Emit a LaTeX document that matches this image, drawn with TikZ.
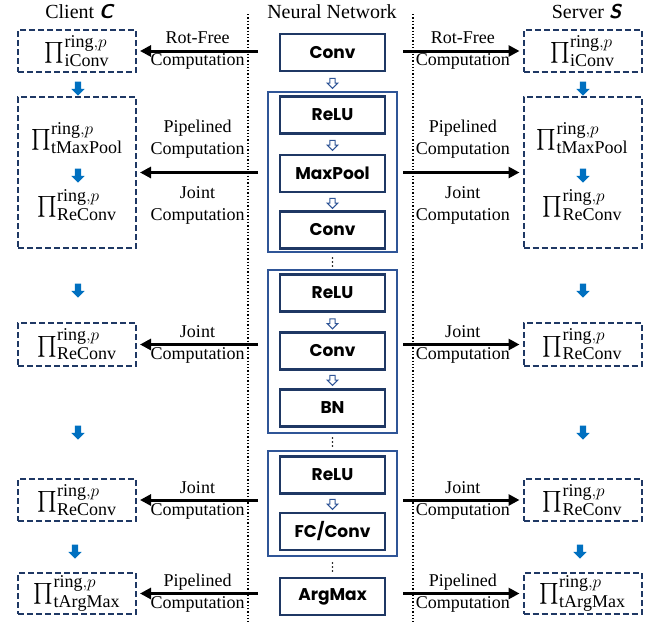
\documentclass[tikz,border=0pt]{standalone}
\usepackage{amsmath}
\usepackage{fontspec}
\setmainfont{Liberation Serif}
\newfontfamily\layerfont{Poppins}
\usetikzlibrary{positioning,shapes.arrows,arrows.meta}
\DeclareMathSizes{20}{20}{18}{14}

\definecolor{navy}{HTML}{1F3864}
\definecolor{grpblue}{HTML}{2F5597}
\definecolor{flowblue}{HTML}{0070C0}

\newcommand{\piop}[1]{$\prod\nolimits^{\mathrm{ring},p}_{\mathrm{#1}}$}

\tikzset{
  title/.style={font=\fontsize{20}{24}\selectfont, inner sep=0pt},
  layer/.style={draw=navy, line width=2.4pt, minimum width=105pt, minimum height=37pt,
    inner sep=0pt, font=\layerfont\bfseries\fontsize{17}{17}\selectfont},
  group/.style={draw=grpblue, line width=1.2pt},
  proto/.style={draw=navy, line width=2pt, dash pattern=on 6pt off 3pt,
    minimum width=118pt, inner sep=0pt, font=\fontsize{20}{24}\selectfont},
  pinode/.style={inner sep=0pt, font=\fontsize{20}{24}\selectfont},
  conn/.style={-{Triangle[length=11pt,width=11pt]}, line width=3pt, shorten >=3pt},
  lab/.style={align=center, inner sep=2pt, font=\fontsize{18}{22}\selectfont},
  flow/.style={single arrow, fill=flowblue, draw=none, shape border rotate=270,
    minimum height=14pt, inner sep=3pt, single arrow head extend=3.5pt},
  hollow/.style={single arrow, fill=white, draw=grpblue, line width=1pt, shape border rotate=270,
    minimum height=10pt, inner sep=2.2pt, single arrow head extend=2.6pt},
  dotsep/.style={line width=1.3pt, dash pattern=on 1.3pt off 2pt},
}

\begin{document}
\begin{tikzpicture}[x=1pt,y=-1pt]
\useasboundingbox (0,0) rectangle (657,622);

% titles
\node[title] (tclient) at (80,12) {Client \textbf{\textit{\sffamily C}}};
\node[title] (tnn) at (332,12) {Neural Network};
\node[title] (tserver) at (587,12) {Server \textbf{\textit{\sffamily S}}};

% separators
\draw[dotsep] (248,14) -- (248,622);
\draw[dotsep] (413,14) -- (413,622);

% neural network
\draw[group] (268,92) rectangle (397,252);
\draw[group] (268,270) rectangle (397,433);
\draw[group] (268,451) rectangle (397,556);

\node[layer] (conv1) at (332.5,52.5) {Conv};
\node[hollow] (h1) at (332.5,82) {};
\node[layer] (relu1) at (332.5,115) {ReLU};
\node[hollow] (h2) at (332.5,144) {};
\node[layer] (pool) at (332.5,173.5) {MaxPool};
\node[hollow] (h3) at (332.5,202) {};
\node[layer] (conv2) at (332.5,230) {Conv};
\node[layer] (relu2) at (332.5,293) {ReLU};
\node[hollow] (h4) at (332.5,322.5) {};
\node[layer] (conv3) at (332.5,351) {Conv};
\node[hollow] (h5) at (332.5,379) {};
\node[layer] (bn) at (332.5,408) {BN};
\node[layer] (relu3) at (332.5,475) {ReLU};
\node[hollow] (h6) at (332.5,503) {};
\node[layer] (fc) at (332.5,531.5) {FC/Conv};
\node[layer] (amax) at (332.5,596.5) {ArgMax};

% skipped layers
\foreach \y in {262,442,567}
  \foreach \d in {-4,0,4}
    \fill (332.5,\y+\d) circle (0.8pt);

% client side
\node[proto, minimum height=42pt] (c1) at (77,51) {\piop{iConv}};
\node[flow] (cf1) at (78,87) {};
\node[proto, minimum height=151pt] (c2) at (77,172.5) {};
\node[pinode] (c2a) at (77,138) {\piop{tMaxPool}};
\node[flow] (cf2) at (78,174) {};
\node[pinode] (c2b) at (77,205) {\piop{ReConv}};
\node[flow] (cf3) at (78,289) {};
\node[proto, minimum height=43pt] (c3) at (77,344.5) {\piop{ReConv}};
\node[flow] (cf4) at (78,431) {};
\node[proto, minimum height=42pt] (c4) at (77,500) {\piop{ReConv}};
\node[flow] (cf5) at (75,550) {};
\node[proto, minimum height=41pt] (c5) at (77,593.5) {\piop{tArgMax}};

% server side
\node[proto, minimum height=42pt] (s1) at (582.5,51) {\piop{iConv}};
\node[flow] (sf1) at (583,87) {};
\node[proto, minimum height=151pt] (s2) at (582.5,172.5) {};
\node[pinode] (s2a) at (582.5,138) {\piop{tMaxPool}};
\node[flow] (sf2) at (583,174) {};
\node[pinode] (s2b) at (582.5,205) {\piop{ReConv}};
\node[flow] (sf3) at (583,289) {};
\node[proto, minimum height=43pt] (s3) at (582.5,344.5) {\piop{ReConv}};
\node[flow] (sf4) at (583,431) {};
\node[proto, minimum height=42pt] (s4) at (582.5,500) {\piop{ReConv}};
\node[flow] (sf5) at (580,550) {};
\node[proto, minimum height=41pt] (s5) at (582.5,593.5) {\piop{tArgMax}};

% computation arrows
\coordinate (lx) at (258,0);
\coordinate (rx) at (403,0);
\draw[conn] (c1.east -| lx) -- node[lab] {Rot-Free\\Computation} (c1.east);
\draw[conn] (c2.east -| lx) -- node[lab, above=11pt] {Pipelined\\Computation}
  node[lab, below=11pt] {Joint\\Computation} (c2.east);
\draw[conn] (c3.east -| lx) -- node[lab] {Joint\\Computation} (c3.east);
\draw[conn] (c4.east -| lx) -- node[lab] {Joint\\Computation} (c4.east);
\draw[conn] (c5.east -| lx) -- node[lab] {Pipelined\\Computation} (c5.east);

\draw[conn] (s1.west -| rx) -- node[lab] {Rot-Free\\Computation} (s1.west);
\draw[conn] (s2.west -| rx) -- node[lab, above=11pt] {Pipelined\\Computation}
  node[lab, below=11pt] {Joint\\Computation} (s2.west);
\draw[conn] (s3.west -| rx) -- node[lab] {Joint\\Computation} (s3.west);
\draw[conn] (s4.west -| rx) -- node[lab] {Joint\\Computation} (s4.west);
\draw[conn] (s5.west -| rx) -- node[lab] {Pipelined\\Computation} (s5.west);
\end{tikzpicture}
\end{document}
